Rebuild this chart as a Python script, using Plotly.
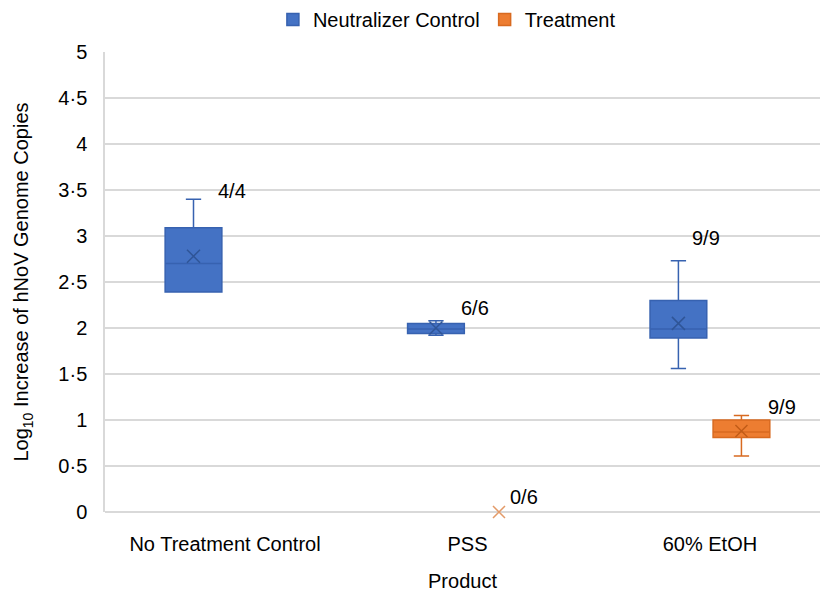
import plotly.graph_objects as go

categories = ["No Treatment Control", "PSS", "60% EtOH"]

# Neutralizer Control box statistics
nc_q1 = [2.39, 1.94, 1.89]
nc_median = [2.70, 1.99, 1.99]
nc_q3 = [3.09, 2.05, 2.30]
nc_low = [2.39, 1.92, 1.56]
nc_high = [3.40, 2.08, 2.73]
nc_mean = [2.78, 2.00, 2.05]

# Treatment box statistics (only 60% EtOH has a box)
tr_cats = ["60% EtOH"]
tr_q1 = [0.81]
tr_median = [0.87]
tr_q3 = [1.00]
tr_low = [0.61]
tr_high = [1.05]
tr_mean_cats = ["PSS", "60% EtOH"]
tr_mean = [0.00, 0.88]

# Data labels
nc_labels = ["4/4", "6/6", "9/9"]
nc_label_y = [3.49, 2.22, 2.98]
tr_labels = ["0/6", "9/9"]
tr_label_y = [0.16, 1.14]

y_ticks = [0, 0.5, 1, 1.5, 2, 2.5, 3, 3.5, 4, 4.5, 5]
y_ticktext = ["0", "0·5", "1", "1·5", "2", "2·5", "3", "3·5", "4", "4·5", "5"]

BLUE = "#4472C4"
BLUE_DARK = "#3762B0"
ORANGE = "#ED7D31"
ORANGE_DARK = "#D86A20"
FONT = "Liberation Sans, Arial, sans-serif"
FS = 20

fig = go.Figure()

fig.add_trace(go.Box(
    name="Neutralizer Control", x=categories,
    q1=nc_q1, median=nc_median, q3=nc_q3,
    lowerfence=nc_low, upperfence=nc_high,
    fillcolor=BLUE, line=dict(color=BLUE_DARK, width=1.5),
    whiskerwidth=0.27, offsetgroup="nc", boxpoints=False,
))
fig.add_trace(go.Box(
    name="Treatment", x=tr_cats,
    q1=tr_q1, median=tr_median, q3=tr_q3,
    lowerfence=tr_low, upperfence=tr_high,
    fillcolor=ORANGE, line=dict(color=ORANGE_DARK, width=1.5),
    whiskerwidth=0.27, offsetgroup="tr", boxpoints=False,
))

fig.add_trace(go.Scatter(
    x=categories, y=nc_mean, mode="markers", offsetgroup="nc",
    marker=dict(symbol="x-thin", size=13, line=dict(color="#2F5597", width=1.5)),
    showlegend=False, cliponaxis=False,
))
fig.add_trace(go.Scatter(
    x=tr_mean_cats, y=tr_mean, mode="markers", offsetgroup="tr",
    marker=dict(symbol="x-thin", size=12,
                line=dict(color=["#E39A68", "#C25C17"], width=1.5)),
    showlegend=False, cliponaxis=False,
))

label_shift_nc = [7, 8, -4]
label_shift_tr = [57, 72]
for c, t, y, s in zip(categories, nc_labels, nc_label_y, label_shift_nc):
    fig.add_annotation(x=c, y=y, text=t, showarrow=False, xshift=s,
                       font=dict(size=FS, color="black", family=FONT))
for c, t, y, s in zip(tr_mean_cats, tr_labels, tr_label_y, label_shift_tr):
    fig.add_annotation(x=c, y=y, text=t, showarrow=False, xshift=s,
                       font=dict(size=FS, color="black", family=FONT))

fig.update_layout(
    width=820, height=592,
    margin=dict(l=105, r=0, t=52, b=80),
    paper_bgcolor="white", plot_bgcolor="white",
    boxmode="group", boxgap=0.48, boxgroupgap=0.1,
    scattermode="group", scattergap=0.48,
    font=dict(family=FONT, size=FS, color="black"),
    legend=dict(orientation="h", xref="container", yref="container",
                x=0.545, xanchor="center", y=1.0, yanchor="top",
                font=dict(size=FS), itemwidth=30),
    xaxis=dict(range=[-0.495, 2.454], showgrid=False, zeroline=False,
               showline=False, ticks="", ticklabelstandoff=18,
               title=dict(text="Product", font=dict(size=FS), standoff=22)),
    yaxis=dict(range=[0, 5], tickvals=y_ticks, ticktext=y_ticktext,
               showgrid=True, gridcolor="#D9D9D9", gridwidth=1.5,
               zeroline=True, zerolinecolor="#D9D9D9", zerolinewidth=1.5,
               showline=True, linecolor="#D9D9D9", linewidth=1.5,
               ticks="", ticklabelstandoff=12,
               title=dict(text="Log<sub>10</sub> Increase of hNoV Genome Copies",
                          font=dict(size=FS), standoff=24)),
)

fig.write_html("out.html")
